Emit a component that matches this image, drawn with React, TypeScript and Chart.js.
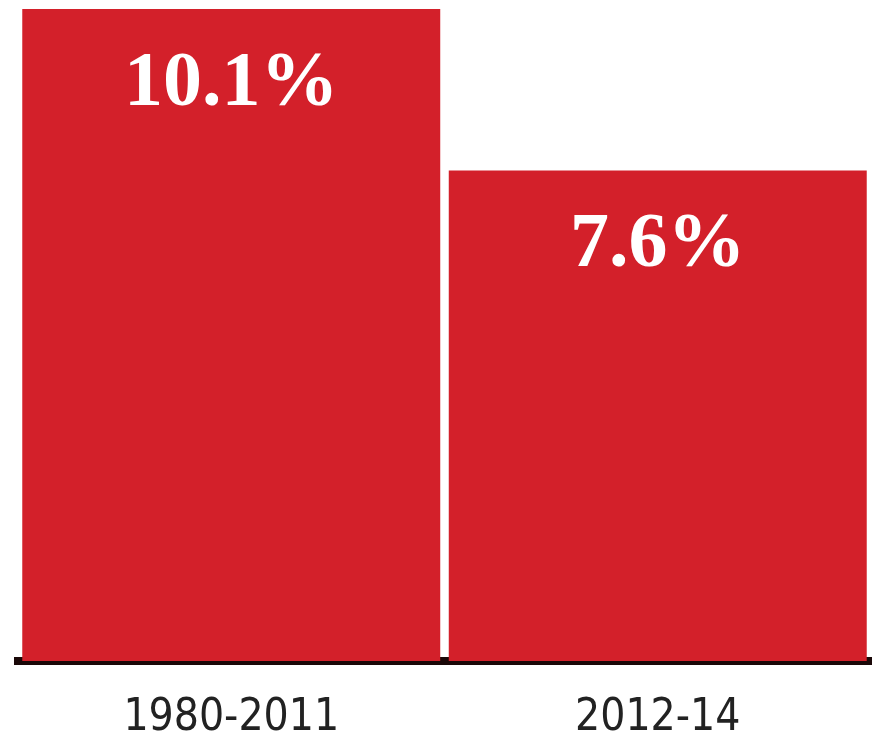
import React, { useEffect, useRef } from "react";
import { Chart, registerables } from "chart.js";

Chart.register(...registerables);

const categories = ["1980-2011", "2012-14"];
const values = [10.1, 7.6];
const valueLabels = ["10.1%", "7.6%"];

const BAR_RED = "#d3202a";

const valueLabelPlugin = {
  id: "valueLabels",
  afterDatasetsDraw(chart: any) {
    const { ctx } = chart;
    const meta = chart.getDatasetMeta(0);
    ctx.save();
    ctx.fillStyle = "#ffffff";
    ctx.font = "bold 78px 'Liberation Serif', 'DejaVu Serif', serif";
    ctx.textAlign = "center";
    ctx.textBaseline = "alphabetic";
    meta.data.forEach((bar: any, i: number) => {
      ctx.fillText(valueLabels[i], bar.x, bar.y + 96);
    });
    ctx.restore();
  },
};

export default function App() {
  const canvasRef = useRef<HTMLCanvasElement | null>(null);

  useEffect(() => {
    document.body.style.margin = "0";
    const canvas = canvasRef.current;
    if (!canvas) return;
    const chart = new Chart(canvas, {
      type: "bar",
      data: {
        labels: categories,
        datasets: [
          {
            data: values,
            backgroundColor: BAR_RED,
            borderWidth: 0,
            barPercentage: 1,
            categoryPercentage: 0.98,
          },
        ],
      },
      options: {
        animation: false,
        responsive: false,
        maintainAspectRatio: false,
        layout: { padding: { top: 9, left: 18, right: 4, bottom: -41 } },
        plugins: {
          legend: { display: false },
          tooltip: { enabled: false },
        },
        scales: {
          x: {
            grid: { display: false, drawTicks: false },
            border: { display: true, color: "#1a0808", width: 8 },
            ticks: {
              color: "#222222",
              padding: 36,
              font: {
                family: "'Liberation Sans Narrow', 'DejaVu Sans Condensed', sans-serif",
                size: 44,
                lineHeight: 1,
              },
            },
          },
          y: {
            display: false,
            min: 0,
            max: Math.max(...values),
          },
        },
      },
      plugins: [valueLabelPlugin],
    });
    return () => chart.destroy();
  }, []);

  return (
    <div style={{ width: 875, height: 736, background: "#ffffff" }}>
      <canvas ref={canvasRef} width={875} height={736} style={{ display: "block" }} />
    </div>
  );
}
